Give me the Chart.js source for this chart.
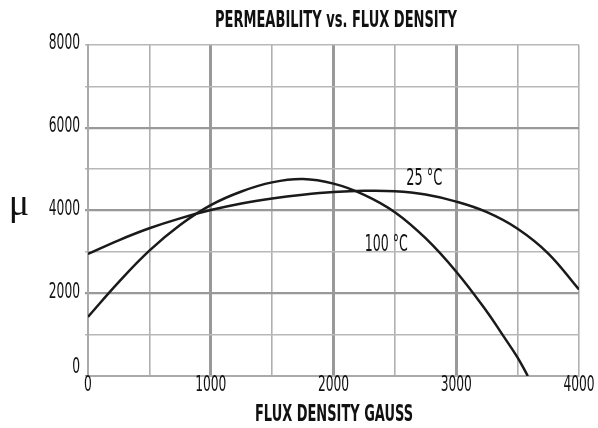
<!DOCTYPE html>
<html>
<head>
<meta charset="utf-8">
<script src="https://cdn.jsdelivr.net/npm/chart.js@4"></script>
<style>
html, body { margin: 0; padding: 0; background: #fff; }
</style>
</head>
<body>
<canvas id="chart" width="598" height="428"></canvas>
<script>
// values
const flux25 = [0, 250, 500, 750, 1000, 1250, 1500, 1750, 2000, 2250, 2500, 2750, 3000, 3250, 3500, 3750, 4000];
const mu25 = [2950, 3280, 3570, 3810, 4010, 4170, 4290, 4380, 4445, 4475, 4465, 4385, 4215, 3960, 3560, 2960, 2090];
const flux100 = [0, 250, 500, 750, 1000, 1250, 1500, 1750, 2000, 2250, 2500, 2750, 3000, 3250, 3375, 3500, 3583];
const mu100 = [1430, 2270, 3030, 3650, 4130, 4460, 4680, 4760, 4650, 4380, 3960, 3330, 2520, 1555, 1005, 445, 0];
const xLabels = [0, 1000, 2000, 3000, 4000];
const yLabels = [0, 2000, 4000, 6000, 8000];

const FONT = "'DejaVu Sans Condensed', 'Liberation Sans', sans-serif";

function toPoints(xs, ys) {
    return xs.map((x, i) => ({ x: x, y: ys[i] }));
}

// the original uses a very condensed face, so squeeze text sideways to a width
function fitText(ctx, text, x, y, font, width, align, baseline) {
    ctx.save();
    ctx.font = font;
    ctx.textAlign = align || 'center';
    ctx.textBaseline = baseline || 'middle';
    const sx = Math.min(1, width / ctx.measureText(text).width);
    ctx.translate(x, y);
    ctx.scale(sx, 1);
    ctx.fillText(text, 0, 0);
    ctx.restore();
}

const textPlugin = {
    id: 'texts',
    afterDraw(chart) {
        const ctx = chart.ctx;
        const xs = chart.scales.x;
        const ys = chart.scales.y;
        const area = chart.chartArea;
        ctx.fillStyle = '#111';

        // tick labels
        yLabels.forEach(v => {
            const s = String(v);
            const py = Math.min(ys.getPixelForValue(v), area.bottom - 7);
            fitText(ctx, s, 80, py - 1, '21px ' + FONT, 7.8 * s.length, 'right');
        });
        xLabels.forEach(v => {
            const s = String(v);
            fitText(ctx, s, xs.getPixelForValue(v), 386, '21px ' + FONT, 7.8 * s.length);
        });

        fitText(ctx, 'PERMEABILITY vs. FLUX DENSITY', 336, 21, 'bold 23px ' + FONT, 242);
        fitText(ctx, 'FLUX DENSITY GAUSS', 334, 415, 'bold 23px ' + FONT, 158);
        fitText(ctx, 'μ', 19, 215, '38px "Liberation Serif", serif', 24, 'center', 'alphabetic');
        fitText(ctx, '25 °C', xs.getPixelForValue(2740), ys.getPixelForValue(4770), '23px ' + FONT, 36);
        fitText(ctx, '100 °C', xs.getPixelForValue(2430), ys.getPixelForValue(3160), '23px ' + FONT, 43);
    }
};

new Chart(document.getElementById('chart'), {
    type: 'scatter',
    data: {
        datasets: [{
            label: '25 °C',
            data: toPoints(flux25, mu25),
            showLine: true,
            borderColor: '#1a1a1a',
            borderWidth: 2.5,
            pointRadius: 0,
            tension: 0.4
        }, {
            label: '100 °C',
            data: toPoints(flux100, mu100),
            showLine: true,
            borderColor: '#1a1a1a',
            borderWidth: 2.5,
            pointRadius: 0,
            tension: 0.4
        }]
    },
    options: {
        responsive: false,
        animation: false,
        layout: { padding: { top: 45, right: 19, left: 0, bottom: 0 } },
        plugins: {
            legend: { display: false },
            tooltip: { enabled: false }
        },
        scales: {
            x: {
                type: 'linear',
                min: 0,
                max: 4000,
                afterFit: scale => {
                    scale.height = 52;
                    scale.paddingLeft = 0;
                    scale.paddingRight = 0;
                },
                border: { color: '#aaa', width: 2 },
                grid: {
                    drawTicks: false,
                    color: c => (c.tick.value % 1000 === 0 && c.tick.value !== 4000) ? '#999' : '#b0b0b0',
                    lineWidth: c => (c.tick.value % 1000 === 0 && c.tick.value > 0 && c.tick.value < 4000) ? 3 : 1.6
                },
                ticks: { stepSize: 500, display: false }
            },
            y: {
                min: 0,
                max: 8000,
                afterFit: scale => {
                    scale.width = 88;
                    scale.paddingTop = 0;
                    scale.paddingBottom = 0;
                },
                border: { color: '#aaa', width: 2 },
                grid: {
                    tickLength: 3,
                    color: c => (c.tick.value % 2000 === 0 && c.tick.value !== 8000) ? '#999' : '#b8b8b8',
                    lineWidth: c => (c.tick.value % 2000 === 0 && c.tick.value > 0 && c.tick.value < 8000) ? 2.2 : 1.4
                },
                ticks: { stepSize: 1000, display: false }
            }
        }
    },
    plugins: [textPlugin]
});
</script>
</body>
</html>
